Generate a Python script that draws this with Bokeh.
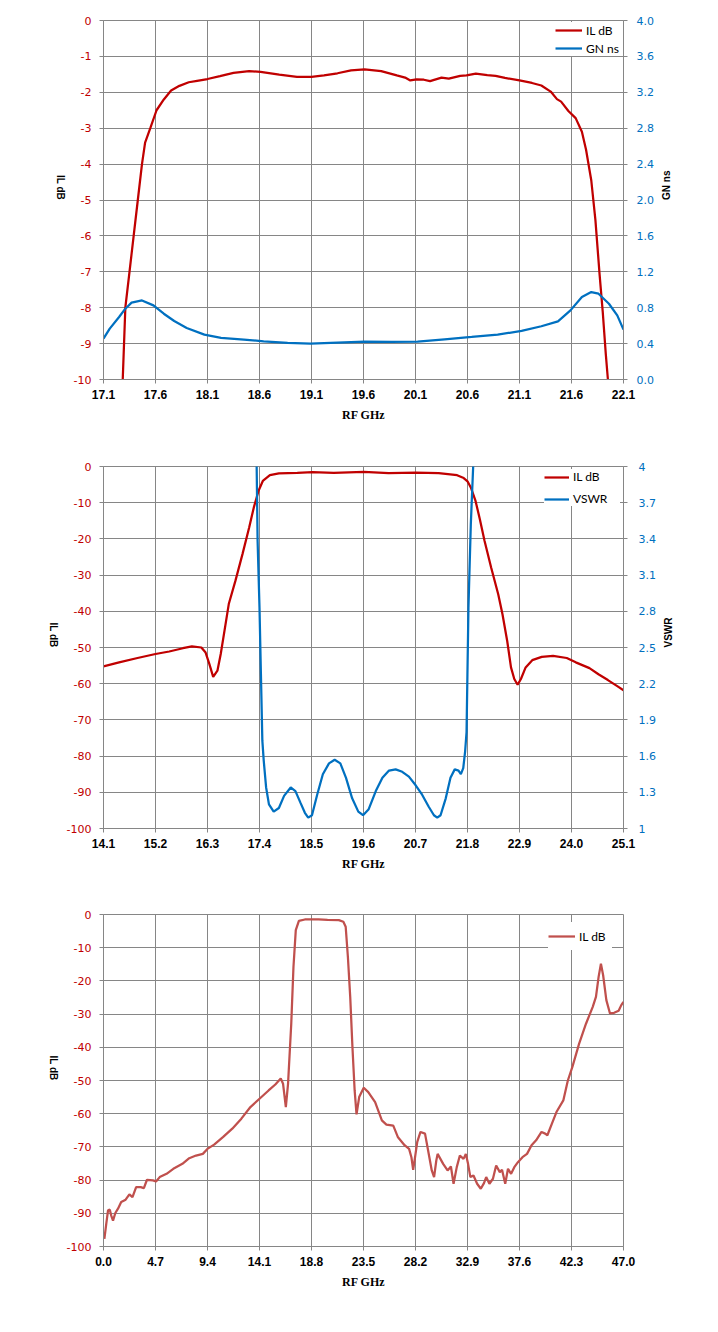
import math
from bokeh.plotting import figure
from bokeh.models import Range1d, LinearAxis, FixedTicker, NumeralTickFormatter, Legend, LegendItem
from bokeh.layouts import column
from bokeh.embed import file_html
from bokeh.resources import INLINE

# ---------------- Chart 1 data ----------------
c1_x_ticks = [17.1, 17.6, 18.1, 18.6, 19.1, 19.6, 20.1, 20.6, 21.1, 21.6, 22.1]
c1_left_ticks = [-10, -9, -8, -7, -6, -5, -4, -3, -2, -1, 0]
c1_right_ticks = [0.0, 0.4, 0.8, 1.2, 1.6, 2.0, 2.4, 2.8, 3.2, 3.6, 4.0]

c1_il_freq = [17.27, 17.285, 17.31, 17.35, 17.39, 17.43, 17.47, 17.50, 17.55, 17.61, 17.68,
              17.75, 17.83, 17.92, 18.00, 18.10, 18.22, 18.35, 18.50, 18.61, 18.79,
              18.96, 19.10, 19.22, 19.35, 19.48, 19.61, 19.77, 19.92, 20.00, 20.05,
              20.11, 20.18, 20.24, 20.35, 20.42, 20.53, 20.59, 20.68, 20.79, 20.87,
              20.96, 21.10, 21.22, 21.31, 21.40, 21.46, 21.50, 21.57, 21.64, 21.70,
              21.74, 21.79, 21.83, 21.87, 21.90, 21.93, 21.95, 21.97]
c1_il_db = [-11.5, -10.0, -8.0, -7.0, -6.0, -5.0, -4.0, -3.4, -3.0, -2.5, -2.2,
            -1.95, -1.82, -1.72, -1.68, -1.63, -1.55, -1.46, -1.41, -1.43, -1.51,
            -1.57, -1.57, -1.53, -1.47, -1.39, -1.36, -1.41, -1.53, -1.59, -1.67,
            -1.64, -1.65, -1.69, -1.59, -1.62, -1.54, -1.53, -1.48, -1.52, -1.54,
            -1.60, -1.67, -1.74, -1.81, -1.98, -2.19, -2.26, -2.52, -2.72, -3.10,
            -3.60, -4.45, -5.56, -7.07, -8.10, -9.30, -10.0, -11.5]

c1_gn_freq = [17.10, 17.16, 17.25, 17.31, 17.37, 17.47, 17.58, 17.68, 17.78, 17.90, 18.07,
              18.23, 18.45, 18.64, 18.87, 19.09, 19.35, 19.61, 19.87, 20.12, 20.38,
              20.64, 20.89, 21.12, 21.31, 21.47, 21.59, 21.70, 21.79, 21.86, 21.96,
              22.04, 22.10]
c1_gn_ns = [0.456, 0.567, 0.696, 0.789, 0.856, 0.881, 0.826, 0.733, 0.652, 0.574, 0.500,
            0.463, 0.444, 0.426, 0.407, 0.400, 0.411, 0.422, 0.419, 0.422, 0.448,
            0.474, 0.500, 0.541, 0.593, 0.648, 0.770, 0.919, 0.974, 0.956, 0.844,
            0.715, 0.556]

# ---------------- Chart 2 data ----------------
c2_x_ticks = [14.1, 15.2, 16.3, 17.4, 18.5, 19.6, 20.7, 21.8, 22.9, 24.0, 25.1]
c2_left_ticks = [-100, -90, -80, -70, -60, -50, -40, -30, -20, -10, 0]
c2_right_ticks = [1.0, 1.3, 1.6, 1.9, 2.2, 2.5, 2.8, 3.1, 3.4, 3.7, 4.0]

c2_il_freq = [14.10, 14.43, 14.82, 15.20, 15.49, 15.78, 15.97, 16.17, 16.26, 16.34, 16.42,
              16.51, 16.58, 16.67, 16.75, 16.89, 17.04, 17.18, 17.28, 17.38, 17.47,
              17.62, 17.81, 18.20, 18.52, 18.97, 19.61, 20.13, 20.71, 21.19, 21.58,
              21.72, 21.80, 21.87, 21.97, 22.06, 22.16, 22.30, 22.45, 22.54, 22.64,
              22.72, 22.79, 22.86, 22.93, 23.03, 23.17, 23.37, 23.61, 23.90, 24.09,
              24.38, 24.57, 24.77, 24.96, 25.10]
c2_il_db = [-55.2, -54.1, -52.9, -51.8, -51.1, -50.2, -49.7, -50.0, -51.4, -54.6, -58.1,
            -56.4, -51.8, -44.5, -38.0, -31.6, -24.2, -16.9, -11.3, -6.7, -4.0,
            -2.4, -1.9, -1.75, -1.57, -1.75, -1.47, -1.84, -1.66, -1.84, -2.4,
            -3.2, -4.1, -5.8, -9.5, -14.5, -20.5, -27.9, -35.3, -40.8, -48.2,
            -55.5, -58.7, -60.3, -58.7, -55.5, -53.5, -52.6, -52.3, -52.9, -54.1,
            -55.7, -57.4, -59.0, -60.6, -61.8]

c2_vswr_freq = [17.30, 17.34, 17.36, 17.40, 17.43, 17.46, 17.49, 17.54, 17.60, 17.70, 17.81,
                17.92, 18.06, 18.16, 18.27, 18.36, 18.43, 18.51, 18.62, 18.74, 18.87,
                18.99, 19.11, 19.23, 19.36, 19.49, 19.59, 19.71, 19.86, 20.00, 20.14,
                20.28, 20.42, 20.56, 20.70, 20.84, 20.98, 21.09, 21.16, 21.23, 21.34,
                21.44, 21.53, 21.61, 21.66, 21.71, 21.75, 21.78, 21.82, 21.87, 21.92,
                21.95]
c2_vswr = [4.9, 4.0, 3.38, 2.83, 2.28, 1.73, 1.56, 1.34, 1.20, 1.14, 1.17,
           1.27, 1.34, 1.31, 1.21, 1.13, 1.09, 1.11, 1.28, 1.45, 1.54,
           1.57, 1.54, 1.42, 1.25, 1.14, 1.11, 1.16, 1.31, 1.42, 1.48,
           1.49, 1.47, 1.43, 1.36, 1.28, 1.18, 1.11, 1.09, 1.11, 1.25,
           1.42, 1.49, 1.48, 1.45, 1.50, 1.64, 1.80, 2.83, 3.52, 4.0,
           4.9]

# ---------------- Chart 3 data ----------------
c3_x_ticks = [0.0, 4.7, 9.4, 14.1, 18.8, 23.5, 28.2, 32.9, 37.6, 42.3, 47.0]
c3_left_ticks = [-100, -90, -80, -70, -60, -50, -40, -30, -20, -10, 0]

c3_il_freq = [0.08, 0.25, 0.41, 0.57, 0.70, 0.86, 1.07, 1.31, 1.60, 2.00, 2.34, 2.62,
              2.95, 3.36, 3.65, 3.93, 4.47, 4.75, 5.08, 5.70, 6.31, 7.13, 7.75, 8.36,
              8.98, 9.39, 10.00, 10.82, 11.64, 12.46, 13.28, 14.10, 14.92, 15.53,
              16.02, 16.23, 16.48, 16.68, 16.97, 17.17, 17.38, 17.66, 18.20, 19.43,
              20.25, 21.27, 21.68, 21.89, 22.09, 22.30, 22.50, 22.70, 22.87, 23.11,
              23.52, 23.93, 24.55, 25.16, 25.57, 26.19, 26.60, 27.21, 27.62, 27.83,
              27.99, 28.16, 28.36, 28.65, 29.06, 29.34, 29.67, 29.88, 30.08, 30.20,
              30.70, 31.10, 31.40, 31.64, 31.93, 32.21, 32.54, 32.75, 32.95, 33.16,
              33.44, 33.77, 34.10, 34.39, 34.59, 34.88, 35.20, 35.49, 35.82, 36.02,
              36.31, 36.56, 36.84, 37.13, 37.46, 37.87, 38.28, 38.69, 39.10, 39.59,
              39.92, 40.12, 40.53, 40.94, 41.56, 41.97, 42.38, 42.99, 43.61, 44.22,
              44.51, 44.75, 44.96, 45.16, 45.45, 45.78, 46.15, 46.56, 46.80, 47.00]
c3_il_db = [-97.7, -93.2, -89.1, -88.9, -90.7, -92.2, -89.9, -88.6, -86.6, -85.9, -84.3, -85.1,
            -82.1, -82.1, -82.4, -79.9, -80.1, -80.4, -79.1, -78.1, -76.6, -75.1, -73.4, -72.6,
            -72.1, -70.6, -69.3, -67.0, -64.5, -61.5, -58.0, -55.5, -53.0, -51.2,
            -49.4, -51.0, -58.0, -51.0, -32.9, -15.8, -4.7, -1.9, -1.5, -1.5,
            -1.6, -1.7, -2.2, -3.7, -12.8, -24.8, -39.9, -53.0, -60.2, -55.0,
            -52.2, -53.5, -56.5, -62.0, -63.3, -63.6, -67.0, -69.5, -70.6, -73.1,
            -76.9, -73.1, -68.5, -65.5, -66.0, -71.1, -77.1, -79.1, -74.1, -72.1,
            -75.1, -77.1, -75.9, -81.1, -76.1, -72.6, -73.6, -72.1, -75.1, -79.1,
            -78.6, -81.1, -82.6, -80.9, -79.1, -81.1, -79.6, -75.6, -77.6, -76.9,
            -81.1, -76.6, -78.1, -76.1, -74.6, -73.1, -72.1, -69.5, -68.0, -65.5,
            -66.0, -66.5, -63.0, -59.5, -56.0, -50.0, -45.9, -38.9, -32.9, -27.8,
            -24.8, -18.8, -14.8, -18.3, -25.8, -29.8, -29.6, -29.0, -27.3, -26.3]

GRID = "#868686"
RED = "#C00000"
BLUE = "#0070C0"
RED3 = "#C0504D"
TICK_FONT = "DejaVu Sans"
XTICK_FONT = "Liberation Sans"
TITLE_FONT = "Liberation Sans"


def style_common(ax):
    ax.axis_line_color = GRID
    ax.major_tick_line_color = GRID
    ax.major_tick_in = 0
    ax.major_tick_out = 4
    ax.minor_tick_line_color = None
    ax.axis_label_text_color = "black"


def make_fig(xr, yr, xticks, yticks, height, borders):
    l, r, t, b = borders
    p = figure(width=708, height=height, x_range=Range1d(*xr), y_range=Range1d(*yr),
               output_backend="svg", toolbar_location=None,
               min_border_left=l, min_border_right=r, min_border_top=t, min_border_bottom=b,
               background_fill_color="white", border_fill_color="white")
    p.outline_line_color = GRID
    p.xgrid.grid_line_color = GRID
    p.ygrid.grid_line_color = GRID
    xa = p.xaxis[0]
    style_common(xa)
    xa.ticker = FixedTicker(ticks=xticks)
    xa.formatter = NumeralTickFormatter(format="0.0")
    xa.major_label_text_font = XTICK_FONT
    xa.major_label_text_font_style = "bold"
    xa.major_label_text_font_size = "12px"
    xa.major_label_text_color = "black"
    xa.major_label_standoff = 6
    xa.axis_label = "RF GHz"
    xa.axis_label_text_font = "Liberation Serif"
    xa.axis_label_text_font_style = "bold"
    xa.axis_label_text_font_size = "12px"
    xa.axis_label_standoff = 6
    ya = p.yaxis[0]
    style_common(ya)
    ya.ticker = FixedTicker(ticks=yticks)
    ya.formatter = NumeralTickFormatter(format="0")
    ya.major_label_text_font = TICK_FONT
    ya.major_label_text_font_size = "11px"
    ya.major_label_text_color = RED
    ya.major_label_standoff = 8
    ya.axis_label = "IL dB"
    ya.axis_label_text_font = TITLE_FONT
    ya.axis_label_text_font_style = "bold"
    ya.axis_label_text_font_size = "10px"
    ya.axis_label_standoff = 10
    ya.axis_label_orientation = -math.pi / 2
    return p


def add_right(p, name, rng, ticks, fmt, label, standoff):
    p.extra_y_ranges = {name: Range1d(*rng)}
    ax = LinearAxis(y_range_name=name, ticker=FixedTicker(ticks=ticks),
                    formatter=NumeralTickFormatter(format=fmt))
    style_common(ax)
    ax.major_label_text_font = TICK_FONT
    ax.major_label_text_font_size = "11px"
    ax.major_label_text_color = BLUE
    ax.major_label_standoff = standoff
    ax.axis_label = label
    ax.axis_label_text_font = TITLE_FONT
    ax.axis_label_text_font_style = "bold"
    ax.axis_label_text_font_size = "10px"
    ax.axis_label_standoff = 10
    ax.axis_label_orientation = math.pi / 2
    p.add_layout(ax, "right")


def make_legend(items, location, margin, padding, gh, spacing, gw, lw):
    return Legend(items=items, location=location, margin=margin, padding=padding,
                  spacing=spacing, glyph_width=gw, glyph_height=gh, label_height=gh,
                  label_width=lw, label_standoff=4, label_text_font="Lato",
                  label_text_font_size="12px", label_text_color="black",
                  border_line_color=None, background_fill_color="white",
                  background_fill_alpha=1.0)


# Chart 1
p1 = make_fig((17.1, 22.1), (-10, 0), c1_x_ticks, c1_left_ticks, 448, (99, 85, 20, 69))
add_right(p1, "gn", (0, 4), c1_right_ticks, "0.0", "GN ns", 9)
r1a = p1.line(c1_il_freq, c1_il_db, line_color=RED, line_width=2.25)
r1b = p1.line(c1_gn_freq, c1_gn_ns, line_color=BLUE, line_width=2.25, y_range_name="gn")
p1.add_layout(make_legend([LegendItem(label="IL dB", renderers=[r1a]),
                           LegendItem(label="GN ns", renderers=[r1b])],
                          "top_right", 2, 2, 16, 2, 27, 35))

# Chart 2
p2 = make_fig((14.1, 25.1), (-100, 0), c2_x_ticks, c2_left_ticks, 440, (103, 83, 18, 60))
add_right(p2, "vswr", (1, 4), c2_right_ticks, "0.[0]", "VSWR", 11)
r2a = p2.line(c2_il_freq, c2_il_db, line_color=RED, line_width=2.25)
r2b = p2.line(c2_vswr_freq, c2_vswr, line_color=BLUE, line_width=2.25, y_range_name="vswr")
p2.add_layout(make_legend([LegendItem(label="IL dB", renderers=[r2a]),
                           LegendItem(label="VSWR", renderers=[r2b])],
                          "top_right", 3, 7, 14, 7, 25, 47))

# Chart 3
p3 = make_fig((0.0, 47.0), (-100, 0), c3_x_ticks, c3_left_ticks, 420, (103, 79, 26, 62))
r3 = p3.line(c3_il_freq, c3_il_db, line_color=RED3, line_width=2.25)
p3.add_layout(make_legend([LegendItem(label="IL dB", renderers=[r3])],
                          (445, 296), 0, 4, 28, 0, 27, 33))

layout = column(p1, p2, p3)
open("out.html", "w").write(file_html(layout, INLINE))
